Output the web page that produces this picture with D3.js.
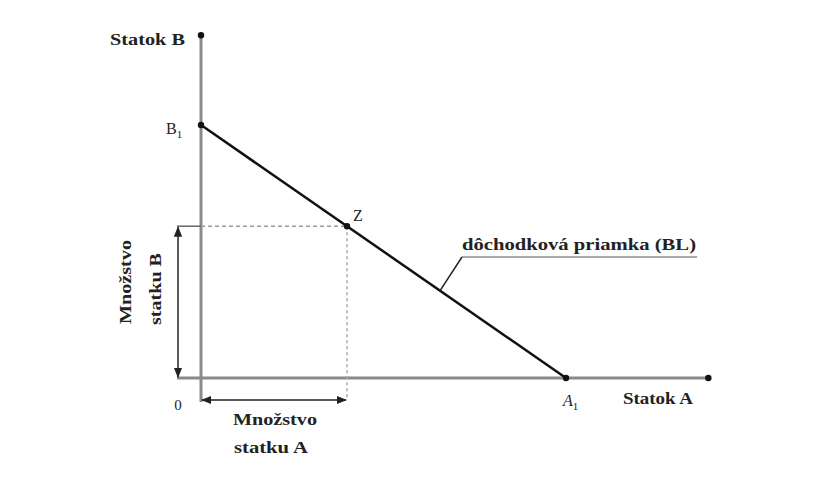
<!DOCTYPE html>
<html><head><meta charset="utf-8">
<script src="https://cdn.jsdelivr.net/npm/d3@7"></script>
<style>body{margin:0;background:#fff}text{font-family:"Liberation Serif","DejaVu Serif",serif;fill:#222}</style>
</head><body><svg id="c" width="818" height="486"></svg>
<script>
// Data (model units)
const axisMax = {x: 13.9, y: 13.55};
const intercepts = {A1: 10, B1: 10};
const pointZ = {a: 4, b: 6};
const labels = {xAxis: "Statok A", yAxis: "Statok B", line: "dôchodková priamka (BL)",
  qtyA: ["Množstvo", "statku A"], qtyB: ["Množstvo", "statku B"]};

const svg = d3.select("#c");
const x = d3.scaleLinear().domain([0, 10]).range([201, 566]);
const y = d3.scaleLinear().domain([0, 10]).range([378, 125]);

const defs = svg.append("defs");
defs.append("marker").attr("id","ah").attr("viewBox","0 0 10 10").attr("refX",9).attr("refY",5)
  .attr("markerWidth",7).attr("markerHeight",7).attr("orient","auto-start-reverse")
  .append("path").attr("d","M0,1L10,5L0,9Z").attr("fill","#222");

const axisCol = "#8a8a8a";
// axes
svg.append("line").attr("x1", x(0)-24).attr("x2", x(axisMax.x)).attr("y1", y(0)).attr("y2", y(0))
  .attr("stroke", axisCol).attr("stroke-width", 3);
svg.append("line").attr("x1", x(0)).attr("x2", x(0)).attr("y1", y(0)+24).attr("y2", y(axisMax.y))
  .attr("stroke", axisCol).attr("stroke-width", 3);

// dashed guides
svg.append("line").attr("x1", x(0)).attr("x2", x(pointZ.a)).attr("y1", y(pointZ.b)).attr("y2", y(pointZ.b))
  .attr("stroke","#999").attr("stroke-width",1.5).attr("stroke-dasharray","4,3");
svg.append("line").attr("x1", x(pointZ.a)).attr("x2", x(pointZ.a)).attr("y1", y(pointZ.b)).attr("y2", y(0)+22)
  .attr("stroke","#aaa").attr("stroke-width",1.5).attr("stroke-dasharray","3,3");
svg.append("line").attr("x1", x(0)-24).attr("x2", x(0)).attr("y1", y(pointZ.b)).attr("y2", y(pointZ.b))
  .attr("stroke","#666").attr("stroke-width",1.5);

// brackets (double arrows)
svg.append("line").attr("x1", x(0)-23).attr("x2", x(0)-23).attr("y1", y(pointZ.b)+1).attr("y2", y(0)-1)
  .attr("stroke","#222").attr("stroke-width",1.5)
  .attr("marker-start","url(#ah)").attr("marker-end","url(#ah)");
svg.append("line").attr("x1", x(0)+1).attr("x2", x(pointZ.a)-1).attr("y1", y(0)+22).attr("y2", y(0)+22)
  .attr("stroke","#222").attr("stroke-width",1.5)
  .attr("marker-start","url(#ah)").attr("marker-end","url(#ah)");

// budget line
svg.append("line").attr("x1", x(0)).attr("y1", y(intercepts.B1)).attr("x2", x(intercepts.A1)).attr("y2", y(0))
  .attr("stroke","#111").attr("stroke-width",2.5);

// dots
const dots = [[0, axisMax.y],[axisMax.x, 0],[0, intercepts.B1],[intercepts.A1, 0],[pointZ.a, pointZ.b]];
svg.selectAll("circle.d").data(dots).join("circle").attr("cx", d=>x(d[0])).attr("cy", d=>y(d[1]))
  .attr("r", 3.2).attr("fill","#111");

// leader for line label
const t = 0.655; // position along budget line
const lx = x(intercepts.A1*t), ly = y(intercepts.B1*(1-t));
svg.append("line").attr("x1", lx).attr("y1", ly).attr("x2", 462).attr("y2", 257)
  .attr("stroke","#222").attr("stroke-width",1.5);
svg.append("line").attr("x1", 462).attr("x2", 697).attr("y1", 257).attr("y2", 257)
  .attr("stroke","#555").attr("stroke-width",1.2);

function lab(txt, xx, yy, len, opts = {}) {
  return svg.append("text").attr("x", xx).attr("y", yy).attr("font-size", opts.size || 17)
    .attr("font-weight", "bold").attr("textLength", len).attr("lengthAdjust", "spacingAndGlyphs")
    .attr("transform", opts.transform || null).text(txt);
}
lab(labels.line, 462, 250, 234, {size: 17});
lab(labels.yAxis, 110, 45, 75);
lab(labels.xAxis, 623, 404, 70);
lab(labels.qtyA[0], 233, 425, 84);
lab(labels.qtyA[1], 234, 453, 74);
// rotated, reading bottom-to-top
lab(labels.qtyB[0], 0, 0, 84, {transform: "translate(131,324) rotate(-90)"});
lab(labels.qtyB[1], 0, 0, 72, {transform: "translate(161,325) rotate(-90)"});

const b1 = svg.append("text").attr("x", 166).attr("y", 134).attr("font-size",16);
b1.append("tspan").text("B");
b1.append("tspan").attr("font-size",11).attr("dy",4).text("1");
const a1 = svg.append("text").attr("x", 563).attr("y", 406).attr("font-size",16).attr("font-style","italic");
a1.append("tspan").text("A");
a1.append("tspan").attr("font-size",11).attr("dy",4).attr("font-style","normal").text("1");
svg.append("text").attr("x", x(pointZ.a)+6).attr("y", y(pointZ.b)-5).attr("font-size",16).text("Z");
svg.append("text").attr("x", 178).attr("y", 410).attr("text-anchor","middle").attr("font-size",15).text("0");
</script></body></html>
